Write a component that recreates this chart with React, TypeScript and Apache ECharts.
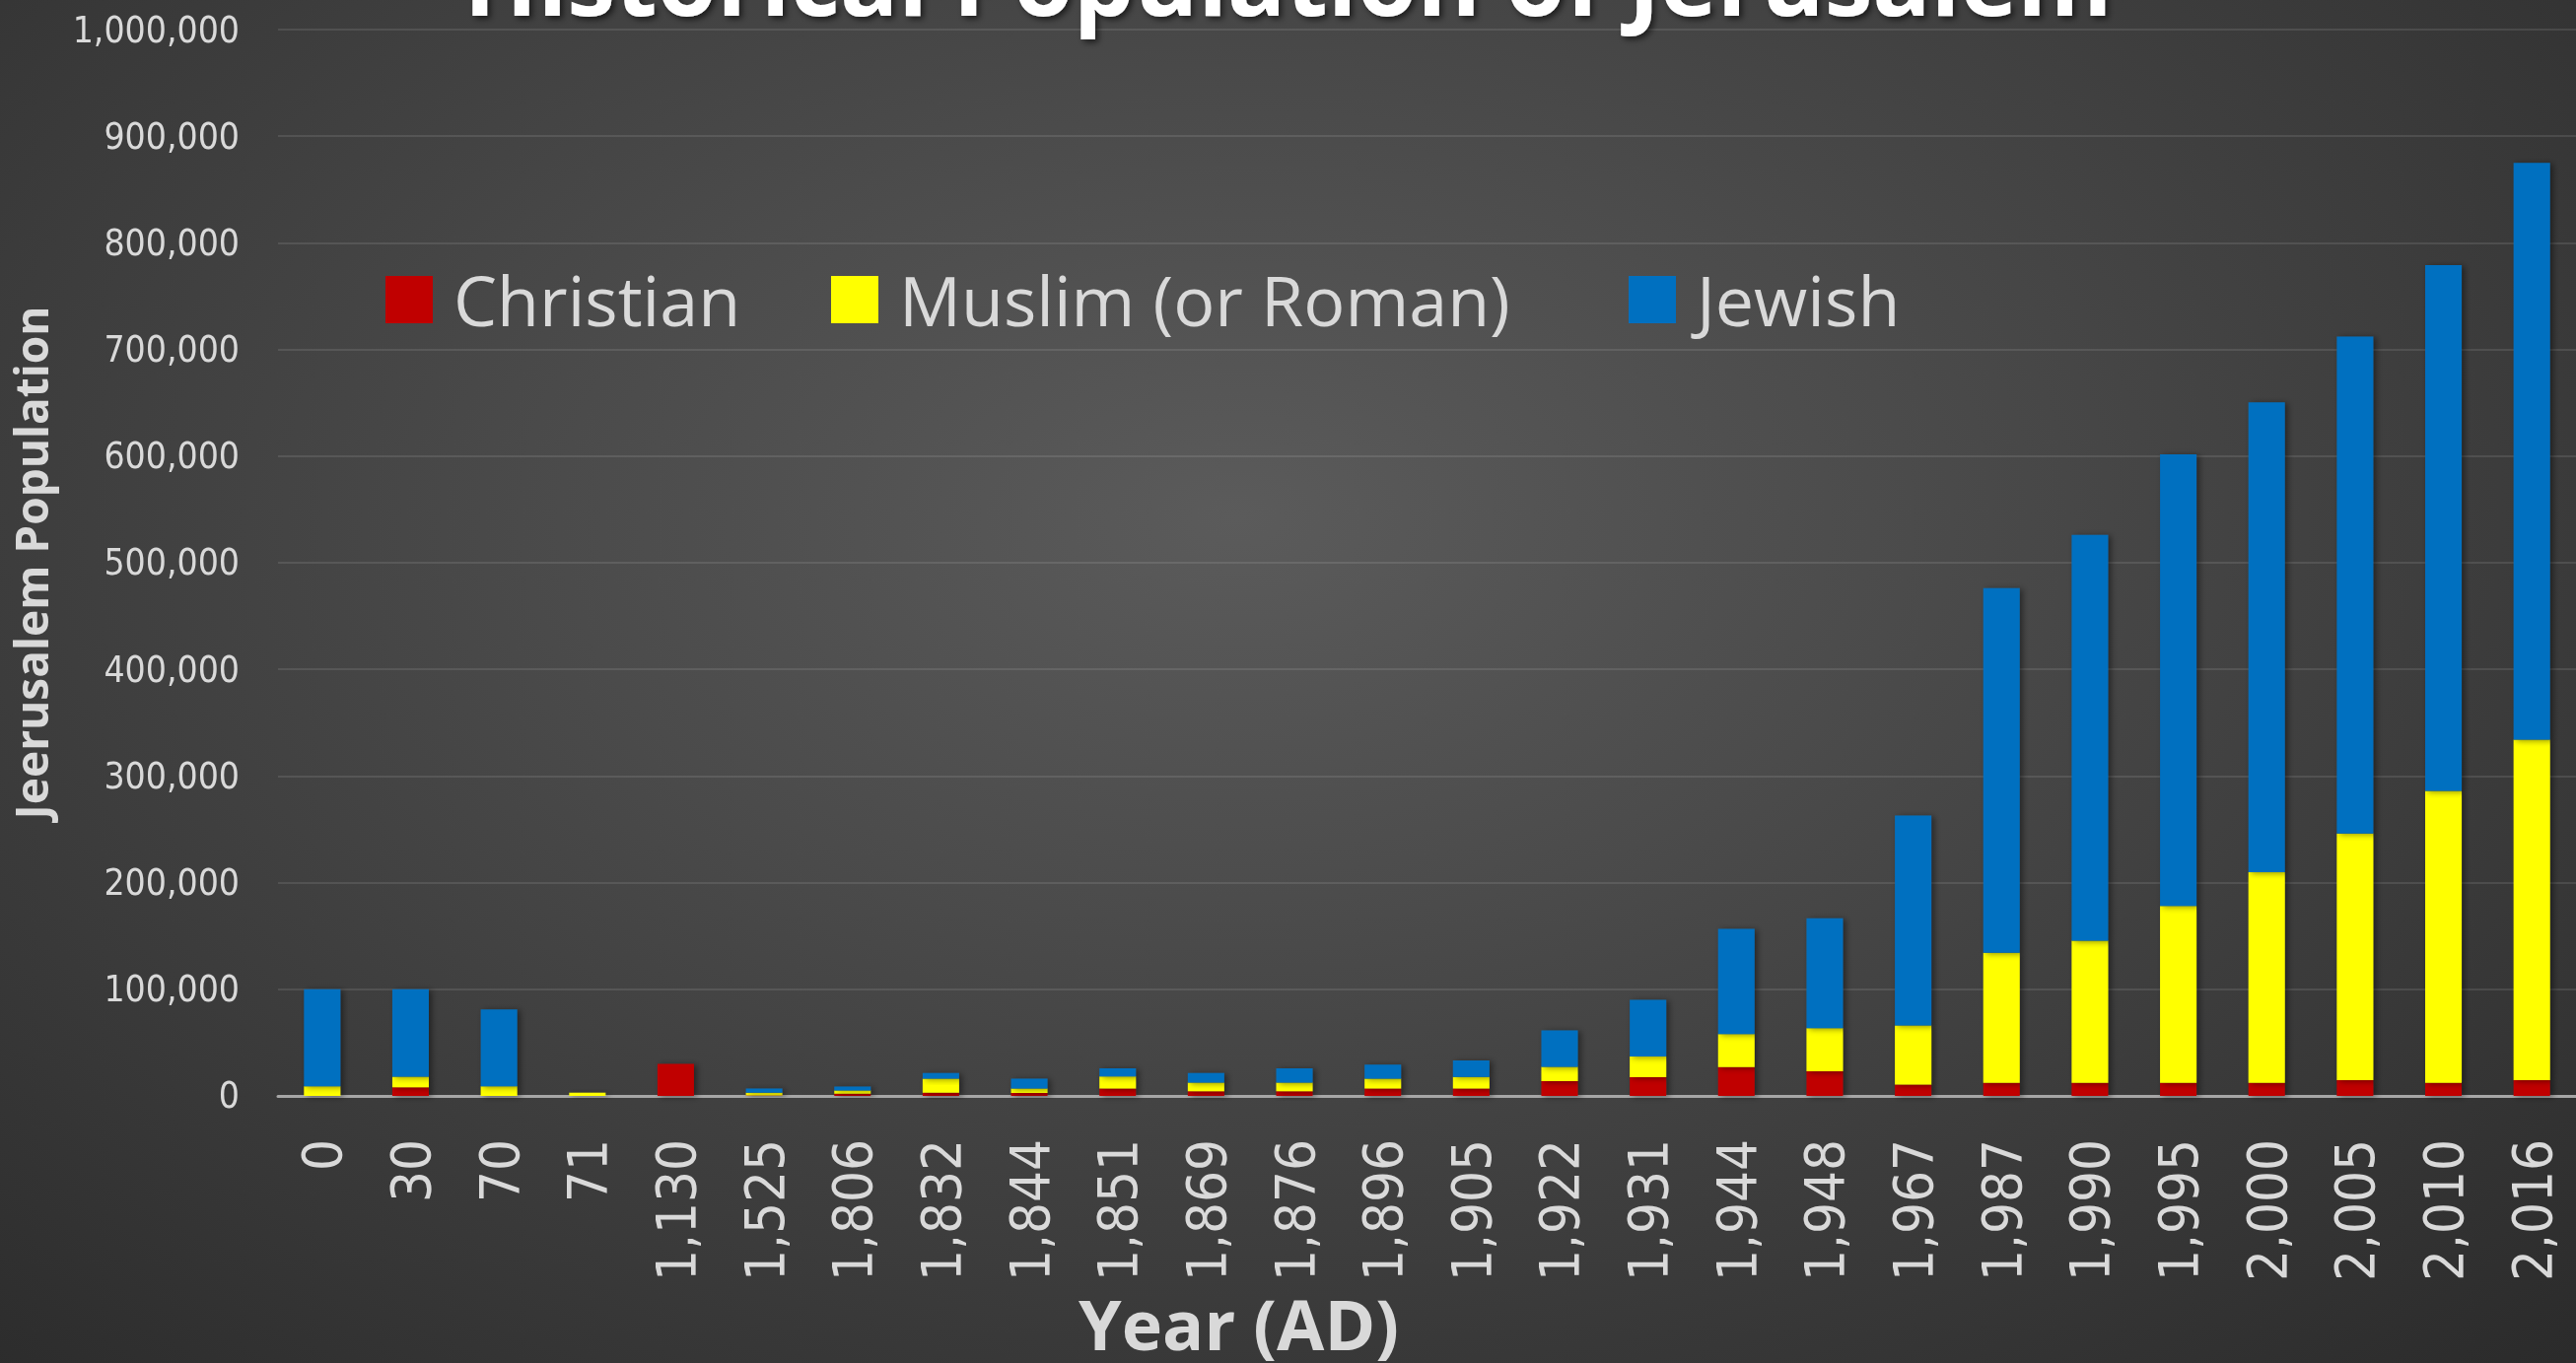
import React, { useEffect, useRef } from "react";
import * as echarts from "echarts";

const years = ["0", "30", "70", "71", "1,130", "1,525", "1,806", "1,832", "1,844", "1,851", "1,869", "1,876", "1,896", "1,905", "1,922", "1,931", "1,944", "1,948", "1,967", "1,987", "1,990", "1,995", "2,000", "2,005", "2,010", "2,016"];
const christian = [0, 8000, 0, 0, 30000, 500, 2000, 3000, 2800, 6800, 4300, 4300, 6800, 6800, 13800, 17500, 27000, 23000, 10600, 12200, 12200, 12200, 12200, 14600, 12200, 14600];
const muslim = [9000, 10000, 9000, 3000, 0, 2500, 2900, 13000, 4000, 11300, 8000, 8000, 9200, 11000, 13500, 19400, 31000, 40500, 55300, 122000, 133300, 165800, 197600, 231400, 273800, 319400];
const jewish = [91000, 82000, 72000, 0, 0, 3800, 3700, 5500, 9200, 7700, 9200, 13500, 13200, 15400, 34100, 53100, 98700, 103000, 197000, 342000, 380500, 423600, 440600, 466000, 493000, 541000];
const seriesNames = ["Christian", "Muslim (or Roman)", "Jewish"];
const seriesColors = ["#C00000", "#FFFF00", "#0070C0"];

const labelColor = "#d9d9d9";

export default function App() {
  const ref = useRef<HTMLDivElement>(null);
  useEffect(() => {
    if (!ref.current) return;
    const chart = echarts.init(ref.current, undefined, { renderer: "svg" });
    const values = [christian, muslim, jewish];
    const legendLefts = [386, 838, 1647];
    chart.setOption({
      animation: false,
      title: {
        text: "Historical Population of Jerusalem",
        left: "center",
        top: -76,
        textStyle: {
          fontFamily: "Open Sans",
          fontWeight: "bold",
          fontSize: 98,
          color: "#ffffff",
          textShadowColor: "rgba(0,0,0,0.6)",
          textShadowBlur: 6,
          textShadowOffsetX: 3,
          textShadowOffsetY: 3,
        },
      },
      legend: seriesNames.map((n, i) => ({
        data: [n],
        left: legendLefts[i],
        top: 264,
        itemWidth: 48,
        itemHeight: 48,
        icon: "rect",
        selectedMode: false,
        textStyle: {
          fontFamily: "Open Sans",
          fontSize: 70,
          color: labelColor,
          padding: [0, 0, 0, 16],
        },
      })),
      grid: { left: 276, right: 0, top: 30, bottom: 268, containLabel: false },
      xAxis: {
        type: "category",
        data: years,
        name: "Year (AD)",
        nameLocation: "middle",
        nameGap: 193,
        nameTextStyle: {
          fontFamily: "Open Sans",
          fontWeight: "bold",
          fontSize: 70,
          color: labelColor,
          padding: [0, 382, 0, 0],
        },
        axisLine: { show: true, lineStyle: { color: "#a6a6a6", width: 3 } },
        axisTick: { show: false },
        axisLabel: {
          rotate: 90,
          margin: 44,
          interval: 0,
          fontFamily: "'DejaVu Sans Condensed', 'DejaVu Sans'",
          fontSize: 56,
          color: labelColor,
        },
      },
      yAxis: {
        type: "value",
        min: 0,
        max: 1000000,
        interval: 100000,
        name: "Jeerusalem Population",
        nameLocation: "middle",
        nameRotate: 90,
        nameGap: 228,
        nameTextStyle: {
          fontFamily: "Open Sans",
          fontWeight: "bold",
          fontSize: 46,
          color: labelColor,
        },
        axisLine: { show: false },
        axisTick: { show: false },
        splitLine: { lineStyle: { color: "rgba(255,255,255,0.1)", width: 2 } },
        axisLabel: {
          margin: 39,
          fontFamily: "'DejaVu Sans Condensed', 'DejaVu Sans'",
          fontSize: 37,
          color: labelColor,
          formatter: (v: number) => v.toLocaleString("en-US"),
        },
      },
      series: seriesNames.map((n, i) => ({
        name: n,
        type: "bar",
        stack: "total",
        barWidth: 37,
        data: values[i],
        itemStyle: {
          color: seriesColors[i],
          shadowColor: "rgba(0,0,0,0.45)",
          shadowBlur: 6,
          shadowOffsetX: 3,
          shadowOffsetY: 1,
        },
      })),
    });
    return () => chart.dispose();
  }, []);
  return (
    <div
      ref={ref}
      style={{
        position: "fixed",
        left: 0,
        top: 0,
        width: "2613px",
        height: "1383px",
        background:
          "radial-gradient(ellipse 75% 85% at 48% 38%, #5b5b5b 0%, #4b4b4b 35%, #2b2b2b 100%)",
      }}
    />
  );
}
